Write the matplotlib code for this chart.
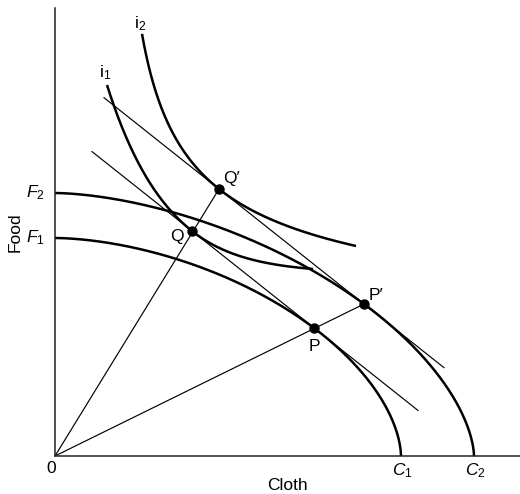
import numpy as np
import matplotlib
matplotlib.use("Agg")
import matplotlib.pyplot as plt

plt.rcParams['font.family'] = ['Liberation Sans', 'DejaVu Sans']
plt.rcParams['mathtext.fontset'] = 'custom'
plt.rcParams['mathtext.rm'] = 'Liberation Sans'
plt.rcParams['mathtext.it'] = 'Liberation Sans:italic'

# production possibility frontiers: intercepts on the Food and Cloth axes
food_intercepts = [218, 263]     # F1, F2
cloth_intercepts = [346, 419]    # C1, C2

# production points (on the frontiers) and consumption points (on indifference curves)
P = (259, 128)
P2 = (309, 152)
Q = (137, 225)
Q2 = (164, 267)

# world relative price line slope (food per cloth)
price_slope = -0.794
price_line1_x = [37, 363]   # through Q and P
price_line2_x = [49, 389]   # through Q' and P'

# indifference curves: start and end points
i1_start = (52, 371)
i1_end = (258, 187)
i2_start = (87, 418)
i2_end = (301, 210)


def frontier(c, f, pt):
    # superellipse through both intercepts and the production point
    lo, hi = 1.0, 4.0
    for _ in range(60):
        n = (lo + hi) / 2
        if (pt[0] / c) ** n + (pt[1] / f) ** n > 1:
            lo = n
        else:
            hi = n
    t = np.linspace(0, np.pi / 2, 300)
    return c * np.cos(t) ** (2 / n), f * np.sin(t) ** (2 / n)


def exp_rate(m, dx, dy, grow):
    # rate c with (m/c)*(exp(c*dx)-1) = dy (grow) or (m/c)*(1-exp(-c*dx)) = dy
    lo, hi = 1e-5, 1.0
    for _ in range(80):
        c = (lo + hi) / 2
        if grow:
            v = (m / c) * (np.exp(c * dx) - 1)
            if v < dy:
                lo = c
            else:
                hi = c
        else:
            v = (m / c) * (1 - np.exp(-c * dx))
            if v > dy:
                lo = c
            else:
                hi = c
    return c


def indiff_exp(start, touch, end, m, n=300):
    # two exponential arms meeting at the tangency point with slope -m
    xt, yt = touch
    c1 = exp_rate(m, xt - start[0], start[1] - yt, True)
    c2 = exp_rate(m, end[0] - xt, yt - end[1], False)
    xl = np.linspace(start[0], xt, n)
    xr = np.linspace(xt, end[0], n)
    yl = yt + (m / c1) * (np.exp(-c1 * (xl - xt)) - 1)
    yr = yt + (m / c2) * (np.exp(-c2 * (xr - xt)) - 1)
    return np.r_[xl, xr], np.r_[yl, yr]


def indiff_root(start, touch, end, m, n=300):
    xt, yt = touch
    xe, ye = end
    L = xe - xt
    target = (yt - ye) / (2 * m)
    lo, hi = 1e-3, 1e5
    for _ in range(100):
        u = (lo + hi) / 2
        if u * (1 - np.sqrt(u / (u + L))) < target:
            lo = u
        else:
            hi = u
    x0 = xt - u
    k = 2 * m * u ** 1.5
    y0 = yt - 2 * m * u
    x = np.linspace(start[0], xe, n)
    return x, y0 + k / np.sqrt(x - x0)


fig = plt.figure(figsize=(5.2, 4.94), dpi=100)
ax = fig.add_axes([55 / 520, 38 / 494, 465 / 520, 448 / 494])
ax.set_xlim(0, 465)
ax.set_ylim(0, 448)
for s in ['top', 'right']:
    ax.spines[s].set_visible(False)
for s in ['left', 'bottom']:
    ax.spines[s].set_linewidth(1.1)
    ax.spines[s].set_color('#222222')
ax.set_xticks([])
ax.set_yticks([])

thick = dict(color='black', lw=1.8, solid_capstyle='butt')
thin = dict(color='black', lw=0.85)

# frontiers
for c, f, pt in zip(cloth_intercepts, food_intercepts, [P, P2]):
    fx, fy = frontier(c, f, pt)
    ax.plot(fx, fy, **thick)

# indifference curves
x1, y1 = indiff_exp(i1_start, Q, i1_end, -price_slope)
ax.plot(x1, y1, **thick)
x2, y2 = indiff_root(i2_start, Q2, i2_end, -price_slope)
ax.plot(x2, y2, **thick)

# price lines
for xs, pt in [(price_line1_x, Q), (price_line2_x, Q2)]:
    xs = np.array(xs)
    ax.plot(xs, pt[1] + price_slope * (xs - pt[0]), **thin)

# rays from origin
ax.plot([0, Q2[0]], [0, Q2[1]], **thin)
ax.plot([0, P2[0]], [0, P2[1]], **thin)

# points
for pt in [P, P2, Q, Q2]:
    ax.plot(*pt, 'o', color='black', ms=6.5)

fs = 12.5
ax.text(P[0], P[1] - 11, 'P', fontsize=fs, ha='center', va='top')
ax.text(P2[0] + 5, P2[1] + 1, 'P\u2032', fontsize=fs, ha='left', va='bottom')
ax.text(Q[0] - 8, Q[1] - 5, 'Q', fontsize=fs, ha='right', va='center')
ax.text(Q2[0] + 4, Q2[1] + 3, 'Q\u2032', fontsize=fs, ha='left', va='bottom')
ax.text(x1[0] - 2, y1[0] + 3, 'i$_1$', fontsize=fs, ha='center', va='bottom')
ax.text(x2[0] - 2, y2[0] + 1, 'i$_2$', fontsize=fs, ha='center', va='bottom')

for i, f in enumerate(food_intercepts):
    ax.text(-10, f, '$F$$_{%d}$' % (i + 1), fontsize=fs, ha='right', va='center')
for i, c in enumerate(cloth_intercepts):
    ax.text(c + 1, -5, '$C$$_{%d}$' % (i + 1), fontsize=fs, ha='center', va='top')
ax.text(-4, -5, '0', fontsize=fs, ha='center', va='top')

ax.set_xlabel('Cloth', fontsize=fs, labelpad=16)
ax.set_ylabel('Food', fontsize=fs, labelpad=23)

fig.savefig('out.png', dpi=100)
